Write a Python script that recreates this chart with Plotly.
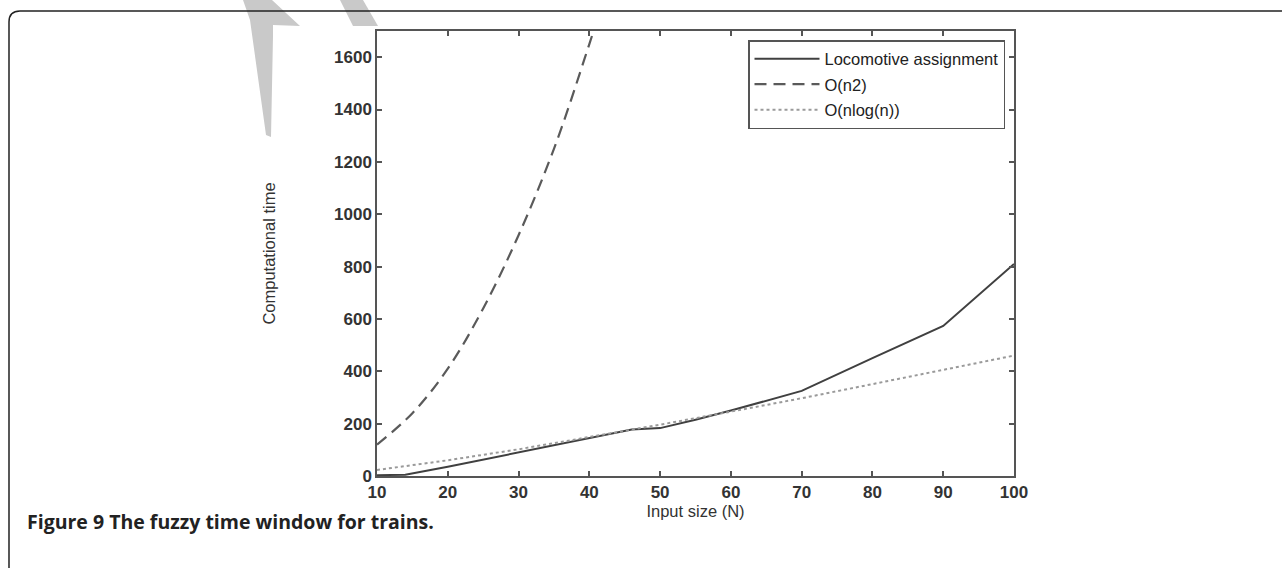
import plotly.graph_objects as go

# ---- data ----
loco_x = [10, 14, 20, 30, 40, 46, 50, 55, 60, 70, 80, 90, 100]
loco_y = [3, 5, 35, 90, 145, 178, 183, 215, 250, 325, 450, 573, 810]

n2_x = [10, 15, 20, 25, 30, 35, 40, 45]
n2_y = [120, 240, 410, 640, 920, 1250, 1650, 2080]

nlog_x = [10, 20, 30, 40, 50, 60, 70, 80, 90, 100]
nlog_y = [23, 60, 102, 148, 196, 246, 297, 351, 405, 460]

x_ticks = [10, 20, 30, 40, 50, 60, 70, 80, 90, 100]
y_ticks = [0, 200, 400, 600, 800, 1000, 1200, 1400, 1600]

W, H = 1282, 568
L, R, T, B = 377, 1014, 31, 476   # plot area in px


def px(xp):
    return (xp - L) / (R - L)


def py(yp):
    return (B - yp) / (B - T)


fig = go.Figure()
fig.add_trace(go.Scatter(x=loco_x, y=loco_y, mode="lines", name="Locomotive assignment",
                         legendgroup="a", line=dict(color="#404040", width=2)))
fig.add_trace(go.Scatter(x=n2_x, y=n2_y, mode="lines", name="O(n2)", line_shape="spline",
                         legendgroup="b", line=dict(color="#5a5a5a", width=2.2, dash="12px,7px")))
fig.add_trace(go.Scatter(x=nlog_x, y=nlog_y, mode="lines", name="O(nlog(n))",
                         legendgroup="c", line=dict(color="#9a9a9a", width=2, dash="dot")))

FONT = "Liberation Sans"
axis_common = dict(showgrid=False, zeroline=False, showline=True, linecolor="#555",
                   linewidth=1.5, mirror="ticks", ticks="inside", ticklen=5,
                   tickcolor="#555", tickwidth=1.5,
                   tickfont=dict(family=FONT, size=17, color="#333", weight="bold"))

fig.update_xaxes(range=[10, 100], tickvals=x_ticks,
                 title=dict(text="Input size (N)", font=dict(family=FONT, size=16.5, color="#333"),
                            standoff=0),
                 **axis_common)
fig.update_yaxes(range=[0, 1700], tickvals=y_ticks,
                 title=dict(text="Computational time", font=dict(family=FONT, size=16.5, color="#333"),
                            standoff=54),
                 **axis_common)

# decorative shapes: gray watermark strokes and rounded outer frame
def path(points, close=True):
    s = "M " + " L ".join(f"{px(a):.5f},{py(b):.5f}" for a, b in points)
    return s + (" Z" if close else "")

shapes = [
    dict(type="path", xref="paper", yref="paper", layer="below",
         path=path([(243, 0), (272, 0), (300, 26), (273, 25), (273, 36), (271, 137),
                    (266, 135), (250, 20)]),
         fillcolor="#c9c9c9", line=dict(width=0)),
    dict(type="path", xref="paper", yref="paper", layer="below",
         path=path([(340, 0), (363, 0), (378, 26), (353, 26)]),
         fillcolor="#c9c9c9", line=dict(width=0)),
]
frame = (f"M {px(9):.5f},{py(568):.5f} L {px(9):.5f},{py(22):.5f} "
         f"Q {px(9):.5f},{py(11):.5f} {px(20):.5f},{py(11):.5f} L {px(1282):.5f},{py(11):.5f}")
shapes.append(dict(type="path", xref="paper", yref="paper", path=frame,
                   line=dict(color="#222", width=1.5)))

fig.update_layout(
    width=W, height=H,
    margin=dict(l=L, r=W - R, t=T, b=H - B, autoexpand=False),
    paper_bgcolor="white", plot_bgcolor="white",
    showlegend=True,
    legend=dict(x=px(748), y=py(40), xanchor="left", yanchor="top",
                bordercolor="#555", borderwidth=1.5, bgcolor="white",
                font=dict(family=FONT, size=16.5, color="#222"),
                tracegroupgap=1, itemwidth=65),
    shapes=shapes,
    annotations=[dict(xref="paper", yref="paper", x=px(25), y=py(521), xanchor="left",
                      yanchor="middle", showarrow=False, align="left",
                      text="<b>Figure 9</b> <b>The fuzzy time window for trains.</b>",
                      font=dict(family="Open Sans", size=19.5, color="#222"))],
)

fig.write_html("out.html")
